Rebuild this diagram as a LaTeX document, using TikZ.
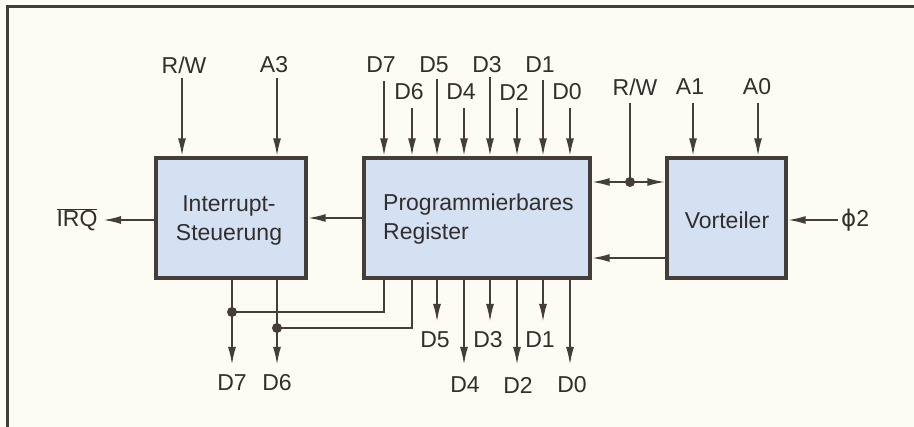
\documentclass[tikz,border=0pt]{standalone}
\usepackage{fontspec}
\setmainfont{Liberation Sans}
\newfontfamily\djv{DejaVu Sans}
\usetikzlibrary{arrows.meta}
\definecolor{ink}{HTML}{453D3A}
\definecolor{txt}{HTML}{332E2C}
\definecolor{boxfill}{HTML}{D3E1F2}
\definecolor{paper}{HTML}{FCFBF4}
\tikzset{
  box/.style={draw=ink, line width=3.4pt, fill=boxfill, inner sep=0pt},
  arr/.style={draw=ink, line width=2pt, -{Latex[length=18pt,width=8pt]}},
  arrb/.style={draw=ink, line width=2pt, {Latex[length=18pt,width=8pt]}-{Latex[length=18pt,width=8pt]}},
  wire/.style={draw=ink, line width=2pt},
  lbl/.style={text=txt, inner sep=0pt, font=\fontsize{23}{29}\selectfont},
  dot/.style={circle, fill=ink, inner sep=0pt, minimum size=10pt},
}
\begin{document}
\begin{tikzpicture}[x=1pt,y=-1pt]
\useasboundingbox (0,0) rectangle (914,427);
\fill[paper] (0,0) rectangle (914,427);
\draw[ink, line width=3pt] (7,427) -- (7,7) -- (914,7);

% boxes
\node[box, minimum width=150pt, minimum height=120pt] (irq) at (231,218) {};
\node[box, minimum width=226pt, minimum height=120pt] (reg) at (477,218) {};
\node[box, minimum width=119pt, minimum height=120pt] (vor) at (726.5,218) {};

\node[lbl, align=center] (irqtxt) at (229,220) {Interrupt-\\Steuerung};
\node[lbl, align=left, anchor=west] (regtxt) at (383,219) {Programmierbares\\Register};
\node[lbl] (vortxt) at (727,220) {Vorteiler};

% inputs to Interrupt
\coordinate (rwa) at (182,78);
\coordinate (a3) at (277,78);
\node[lbl] (rwal) at (184,65) {R/W};
\node[lbl] (a3l) at (274,65) {A3};
\draw[arr] (rwa) -- (rwa |- irq.north);
\draw[arr] (a3) -- (a3 |- irq.north);

% inputs to register
\foreach \n/\x/\y/\ly in {7/384/81/65, 6/412/108/92, 5/437/79/65, 4/464/108/92, 3/490/77/65, 2/517/108/92, 1/543/80/65, 0/570/108/92}{
  \coordinate (i\n) at (\x,\y);
  \node[lbl] (il\n) at (\x-3,\ly) {D\n};
  \draw[arr] (i\n) -- (i\n |- reg.north);
}

% register -> interrupt
\draw[arr] (reg.west) -- (irq.east);
% IRQ
\coordinate (irqend) at (103,220);
\node[lbl] (irql) at (77,220) {$\overline{\mbox{IRQ}}$};
\draw[arr] (irq.west |- irqend) -- (irqend);

% R/W bidirectional
\coordinate (rwdot) at (630,182);
\coordinate (rwb) at (630,103);
\node[lbl] (rwbl) at (635,87) {R/W};
\draw[arrb] (reg.east |- rwdot) -- (vor.west |- rwdot);
\draw[wire] (rwb) -- (rwdot);
\node[dot] (rwd) at (rwdot) {};

% A1 A0
\coordinate (a1) at (693,103);
\coordinate (a0) at (758,103);
\node[lbl] (a1l) at (690,87) {A1};
\node[lbl] (a0l) at (757,87) {A0};
\draw[arr] (a1) -- (a1 |- vor.north);
\draw[arr] (a0) -- (a0 |- vor.north);

% Vorteiler -> register
\coordinate (vb) at (667,258);
\draw[arr] (vor.west |- vb) -- (reg.east |- vb);

% phi2
\coordinate (phi) at (838,220);
\node[lbl, anchor=west] (phil) at (841,220) {{\djv ϕ}2};
\draw[arr] (phi) -- (vor.east |- phi);

% bottom of register
\coordinate (j7) at (232,312);
\coordinate (j6) at (277,328);
\coordinate (b7) at (384,312);
\coordinate (b6) at (412,328);
\draw[wire] (reg.south -| b7) -- (b7) -- (j7);
\draw[wire] (reg.south -| b6) -- (b6) -- (j6);
\coordinate (o7) at (232,365);
\coordinate (o6) at (277,365);
\draw[arr] (irq.south -| o7) -- (o7);
\draw[arr] (irq.south -| o6) -- (o6);
\node[dot] (dj7) at (j7) {};
\node[dot] (dj6) at (j6) {};
\node[lbl] (ol7) at (232,383) {D7};
\node[lbl] (ol6) at (277,383) {D6};

\foreach \n/\x/\t/\ly/\lx in {5/437/322/340/435, 4/464/365/385/465, 3/490/322/340/488, 2/517/365/385/518, 1/543/322/340/540, 0/570/365/385/572}{
  \coordinate (o\n) at (\x,\t);
  \draw[arr] (reg.south -| o\n) -- (o\n);
  \node[lbl] (ol\n) at (\lx,\ly) {D\n};
}
\end{tikzpicture}
\end{document}
